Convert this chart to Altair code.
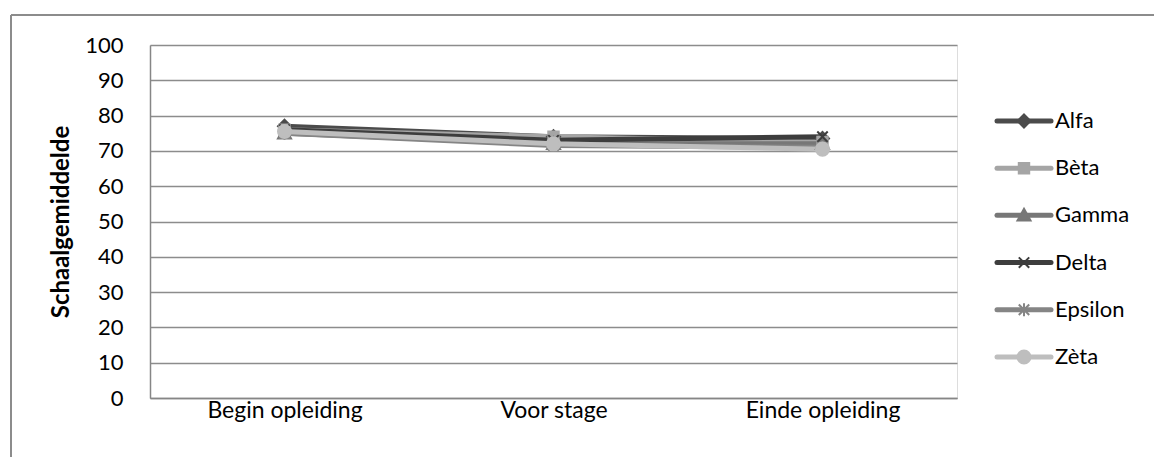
import altair as alt
import pandas as pd

moments = ["Begin opleiding", "Voor stage", "Einde opleiding"]
series = ["Alfa", "Bèta", "Gamma", "Delta", "Epsilon", "Zèta"]
alfa = [77.0, 74.0, 73.5]
beta = [76.0, 74.0, 72.5]
gamma = [75.0, 72.0, 72.0]
delta = [76.0, 73.0, 74.0]
epsilon = [75.0, 71.5, 71.0]
zeta = [75.5, 72.0, 70.5]
y_ticks = [0, 10, 20, 30, 40, 50, 60, 70, 80, 90, 100]

colors = ["#4b4b4b", "#a5a5a5", "#777777", "#3d3d3d", "#858585", "#bebebe"]

s, a = 1, 0.8
point_shapes = [
    f"M0,{-s}L{s},0L0,{s}L{-s},0Z",
    f"M{-a},{-a}L{a},{-a}L{a},{a}L{-a},{a}Z",
    f"M0,{-s}L{s},{a}L{-s},{a}Z",
    f"M{-a},{-a}L{a},{a}M{-a},{a}L{a},{-a}",
    f"M{-a},{-a}L{a},{a}M{-a},{a}L{a},{-a}M0,{-s}L0,{s}",
    f"M{-s},0A{s},{s},0,1,0,{s},0A{s},{s},0,1,0,{-s},0Z",
]

rows = []
for name, vals in zip(series, [alfa, beta, gamma, delta, epsilon, zeta]):
    for m, v in zip(moments, vals):
        rows.append({"Moment": m, "Reeks": name, "Waarde": v})
df = pd.DataFrame(rows)
leg_df = pd.DataFrame({"Reeks": series})

FONT = "Lato"

x_enc = alt.X("Moment:N", sort=moments, title=None,
              scale=alt.Scale(paddingInner=0, paddingOuter=0),
              axis=alt.Axis(labelAngle=0, ticks=False, domain=True, domainColor="#868686",
                            domainWidth=1.5, labelFontSize=23, labelColor="#000000",
                            labelPadding=1, grid=False, labelFont=FONT))
y_enc = alt.Y("Waarde:Q", title="Schaalgemiddelde",
              scale=alt.Scale(domain=[0, 100], nice=False),
              axis=alt.Axis(values=y_ticks, ticks=False, domain=True, domainColor="#868686",
                            domainWidth=1.5, gridColor="#8c8c8c", gridWidth=1.5,
                            labelFontSize=22, labelColor="#000000", labelPadding=27,
                            titleFontSize=24, titleFontWeight="bold", titleColor="#000000",
                            titlePadding=11, labelFont=FONT, titleFont=FONT))

color_scale = alt.Scale(domain=series, range=colors)
shape_scale = alt.Scale(domain=series, range=point_shapes)

lines = alt.Chart(df).mark_line(strokeWidth=5, strokeCap="round").encode(
    x=x_enc, y=y_enc,
    color=alt.Color("Reeks:N", scale=color_scale, legend=None),
)

points = alt.Chart(df).mark_point(filled=True, size=170, opacity=1, strokeWidth=2).encode(
    x=x_enc, y=y_enc,
    fill=alt.Fill("Reeks:N", scale=color_scale, legend=None),
    stroke=alt.Stroke("Reeks:N", scale=color_scale, legend=None),
    shape=alt.Shape("Reeks:N", scale=shape_scale, legend=None),
)

# legend drawn as marks placed by a band scale of the series
leg_y = alt.Y("Reeks:N", sort=series, axis=None, title=None,
              scale=alt.Scale(type="band", paddingInner=0, paddingOuter=0.74, align=0.75))

leg_lines = alt.Chart(leg_df).mark_rule(strokeWidth=5, strokeCap="round").encode(
    x=alt.value(847), x2=alt.value(901), y=leg_y,
    color=alt.Color("Reeks:N", scale=color_scale, legend=None),
)
leg_points = alt.Chart(leg_df).mark_point(filled=True, size=170, opacity=1, strokeWidth=2).encode(
    x=alt.value(874), y=leg_y,
    fill=alt.Fill("Reeks:N", scale=color_scale, legend=None),
    stroke=alt.Stroke("Reeks:N", scale=color_scale, legend=None),
    shape=alt.Shape("Reeks:N", scale=shape_scale, legend=None),
)
leg_text = alt.Chart(leg_df).mark_text(align="left", baseline="middle", fontSize=22,
                                       font=FONT, color="#000000").encode(
    x=alt.value(905), y=leg_y, text="Reeks:N",
)

frame_top = alt.Chart(df).mark_rule(color="#8c8c8c", strokeWidth=2).encode(
    x=alt.value(-139), x2=alt.value(1020), y=alt.value(-30))
frame_left = alt.Chart(df).mark_rule(color="#8c8c8c", strokeWidth=2).encode(
    x=alt.value(-139), y=alt.value(-30), y2=alt.value(420))

main = alt.layer(frame_top, frame_left, lines, points)
legend = alt.layer(leg_lines, leg_points, leg_text)

chart = alt.layer(main, legend).resolve_scale(y="independent").properties(
    width=807, height=353,
    autosize=alt.AutoSizeParams(type="none"),
    padding={"left": 150, "top": 45, "right": 197, "bottom": 59},
).configure_view(strokeWidth=0).configure(background="#ffffff")

chart.save("out.html", embed_options={"renderer": "svg", "actions": False})
